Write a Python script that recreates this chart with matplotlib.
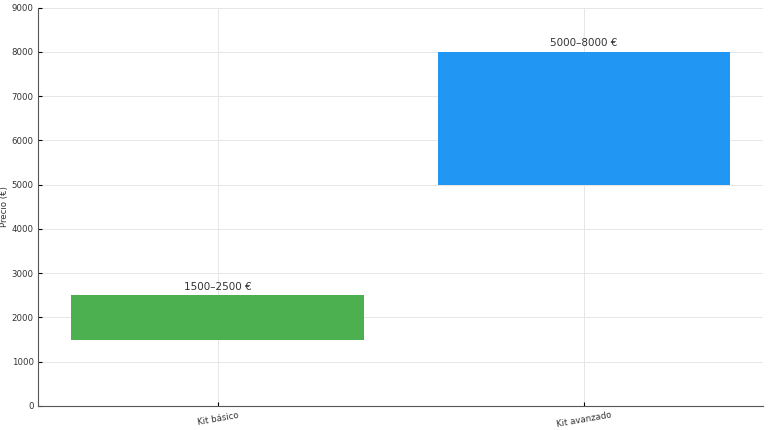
import matplotlib
matplotlib.use("Agg")
import matplotlib.pyplot as plt

categories = ["Kit básico", "Kit avanzado"]
low = [1500, 5000]
high = [2500, 8000]
labels = ["1500–2500 €", "5000–8000 €"]
colors = ["#4CAF50", "#2196F3"]

fig = plt.figure(figsize=(7.68, 4.30), dpi=100)
ax = fig.add_axes([0.05, 0.056, 0.944, 0.926])
x = list(range(len(categories)))
heights = [h - l for h, l in zip(high, low)]
ax.bar(x, heights, bottom=low, color=colors, width=0.8, zorder=2)
for xi, h, t in zip(x, high, labels):
    ax.text(xi, h + 80, t, ha="center", va="bottom", fontsize=7.5, color="#333333")
ax.set_xticks(x)
ax.set_xticklabels(categories, rotation=10, fontsize=6.2, color="#333333")
ax.set_ylim(0, 9000)
ax.set_xlim(-0.49, 1.49)
ax.set_yticks(range(0, 9001, 1000))
ax.tick_params(axis="y", labelsize=6.2, direction="in", length=3, labelcolor="#333333")
ax.tick_params(axis="x", direction="in", length=3)
ax.set_ylabel("Precio (€)", fontsize=6.2, labelpad=2, color="#333333")
ax.grid(True, color="#e6e6e6", linewidth=0.7, zorder=0)
for s in ["top", "right"]:
    ax.spines[s].set_visible(False)
for s in ["left", "bottom"]:
    ax.spines[s].set_color("#555555")
fig.savefig("out.png", dpi=100)
